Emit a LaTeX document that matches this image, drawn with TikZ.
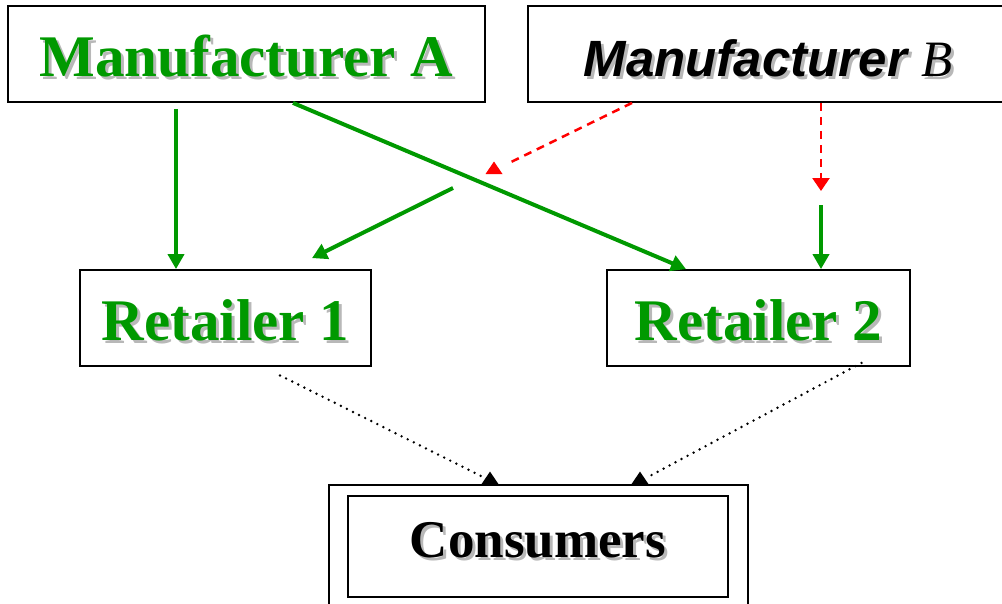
\documentclass[tikz,border=0pt]{standalone}
\usepackage{fontspec}
\setmainfont{Liberation Serif}
\setsansfont{Liberation Sans}
\usetikzlibrary{arrows.meta}

\definecolor{mgreen}{RGB}{0,153,0}
\definecolor{shade}{gray}{0.72}

% text with a grey drop shadow
\newcommand{\shadowed}[2]{\rlap{\kern3pt\raisebox{-3pt}{\color{shade}#2}}{\color{#1}#2}}

\tikzset{
  % upright triangle head, base centred on the placing point
  uphead/.pic={\fill (-8.5,0) -- (0,-12.5) -- (8.5,0) -- cycle;}
}

\begin{document}
\begin{tikzpicture}
  [
   x=1pt,y=-1pt,
   box/.style={draw,line width=1.8pt,inner sep=0pt},
   gfont/.style={font=\fontsize{59}{59}\selectfont\bfseries,text height=44pt,text depth=0pt},
   bfont/.style={font=\fontsize{51}{51}\selectfont\sffamily\bfseries\itshape,text height=44pt,text depth=0pt},
   cfont/.style={font=\fontsize{53}{53}\selectfont\bfseries,text height=38pt,text depth=0pt},
   garrow/.style={draw=mgreen,line width=4pt,-{Triangle[length=15pt,width=16pt]}},
   rdash/.style={draw=red,line width=2.5pt,dash pattern=on 8pt off 6pt},
   rarrow/.style={rdash,-{Triangle[length=13pt,width=17pt]}},
   kdots/.style={draw=black,line width=2.7pt,dash pattern=on 0pt off 6.8pt,line cap=round}
  ]
   \fill[white] (0,0) rectangle (1002,603);
   \useasboundingbox (0,0) rectangle (1002,603);

   \node[box,gfont,minimum width=477pt,minimum height=96pt] (mA) at (246.5,54)
      {\shadowed{mgreen}{Manufacturer A}};
   \node[box,bfont,minimum width=480pt,minimum height=96pt] (mB) at (768,54)
      {\shadowed{black}{Manufacturer {\rmfamily\mdseries B}}};
   \node[box,gfont,minimum width=291pt,minimum height=96pt] (r1) at (225.5,318)
      {\shadowed{mgreen}{Retailer 1}};
   \node[box,gfont,minimum width=303pt,minimum height=96pt] (r2) at (758.5,318)
      {\shadowed{mgreen}{Retailer 2}};

   % consumers: double frame
   \node[box,minimum width=419pt,minimum height=127pt] (cons) at (538.5,548.5) {};
   \draw[line width=1.3pt] (348,496) rectangle (728,597);
   \node[cfont] (consLabel) at (538,538) {\shadowed{black}{Consumers}};

   \coordinate (redTip) at (507,164);
   \coordinate (cross) at (453,188);
   \coordinate (redEnd) at (821,191);
   \coordinate (greenStart) at (821,205);
   \coordinate (dotL) at (485,478);
   \coordinate (dotR) at (646,478);

   \draw[garrow,shorten <=6pt] ([xshift=-70.5pt]mA.south) -- ([xshift=-49.5pt]r1.north);
   \draw[garrow] ([xshift=46.5pt]mA.south) -- ([xshift=-72.5pt]r2.north);
   \draw[garrow] (cross) -- ([xshift=86.5pt,yshift=11pt]r1.north);
   \draw[garrow] (greenStart) -- ([xshift=62.5pt]r2.north);

   \draw[rdash] ([xshift=-136pt]mB.south) -- (redTip);
   \pic[red] at (494,174) {uphead};
   \draw[rarrow] ([xshift=53pt]mB.south) -- (redEnd);

   \draw[kdots] ([xshift=54.5pt,yshift=-8.5pt]r1.south) -- (dotL);
   \draw[kdots] ([xshift=103pt,yshift=4pt]r2.south) -- (dotR);
   \pic at ([xshift=-48.5pt]cons.north) {uphead};
   \pic at ([xshift=101.5pt]cons.north) {uphead};

\end{tikzpicture}
\end{document}
